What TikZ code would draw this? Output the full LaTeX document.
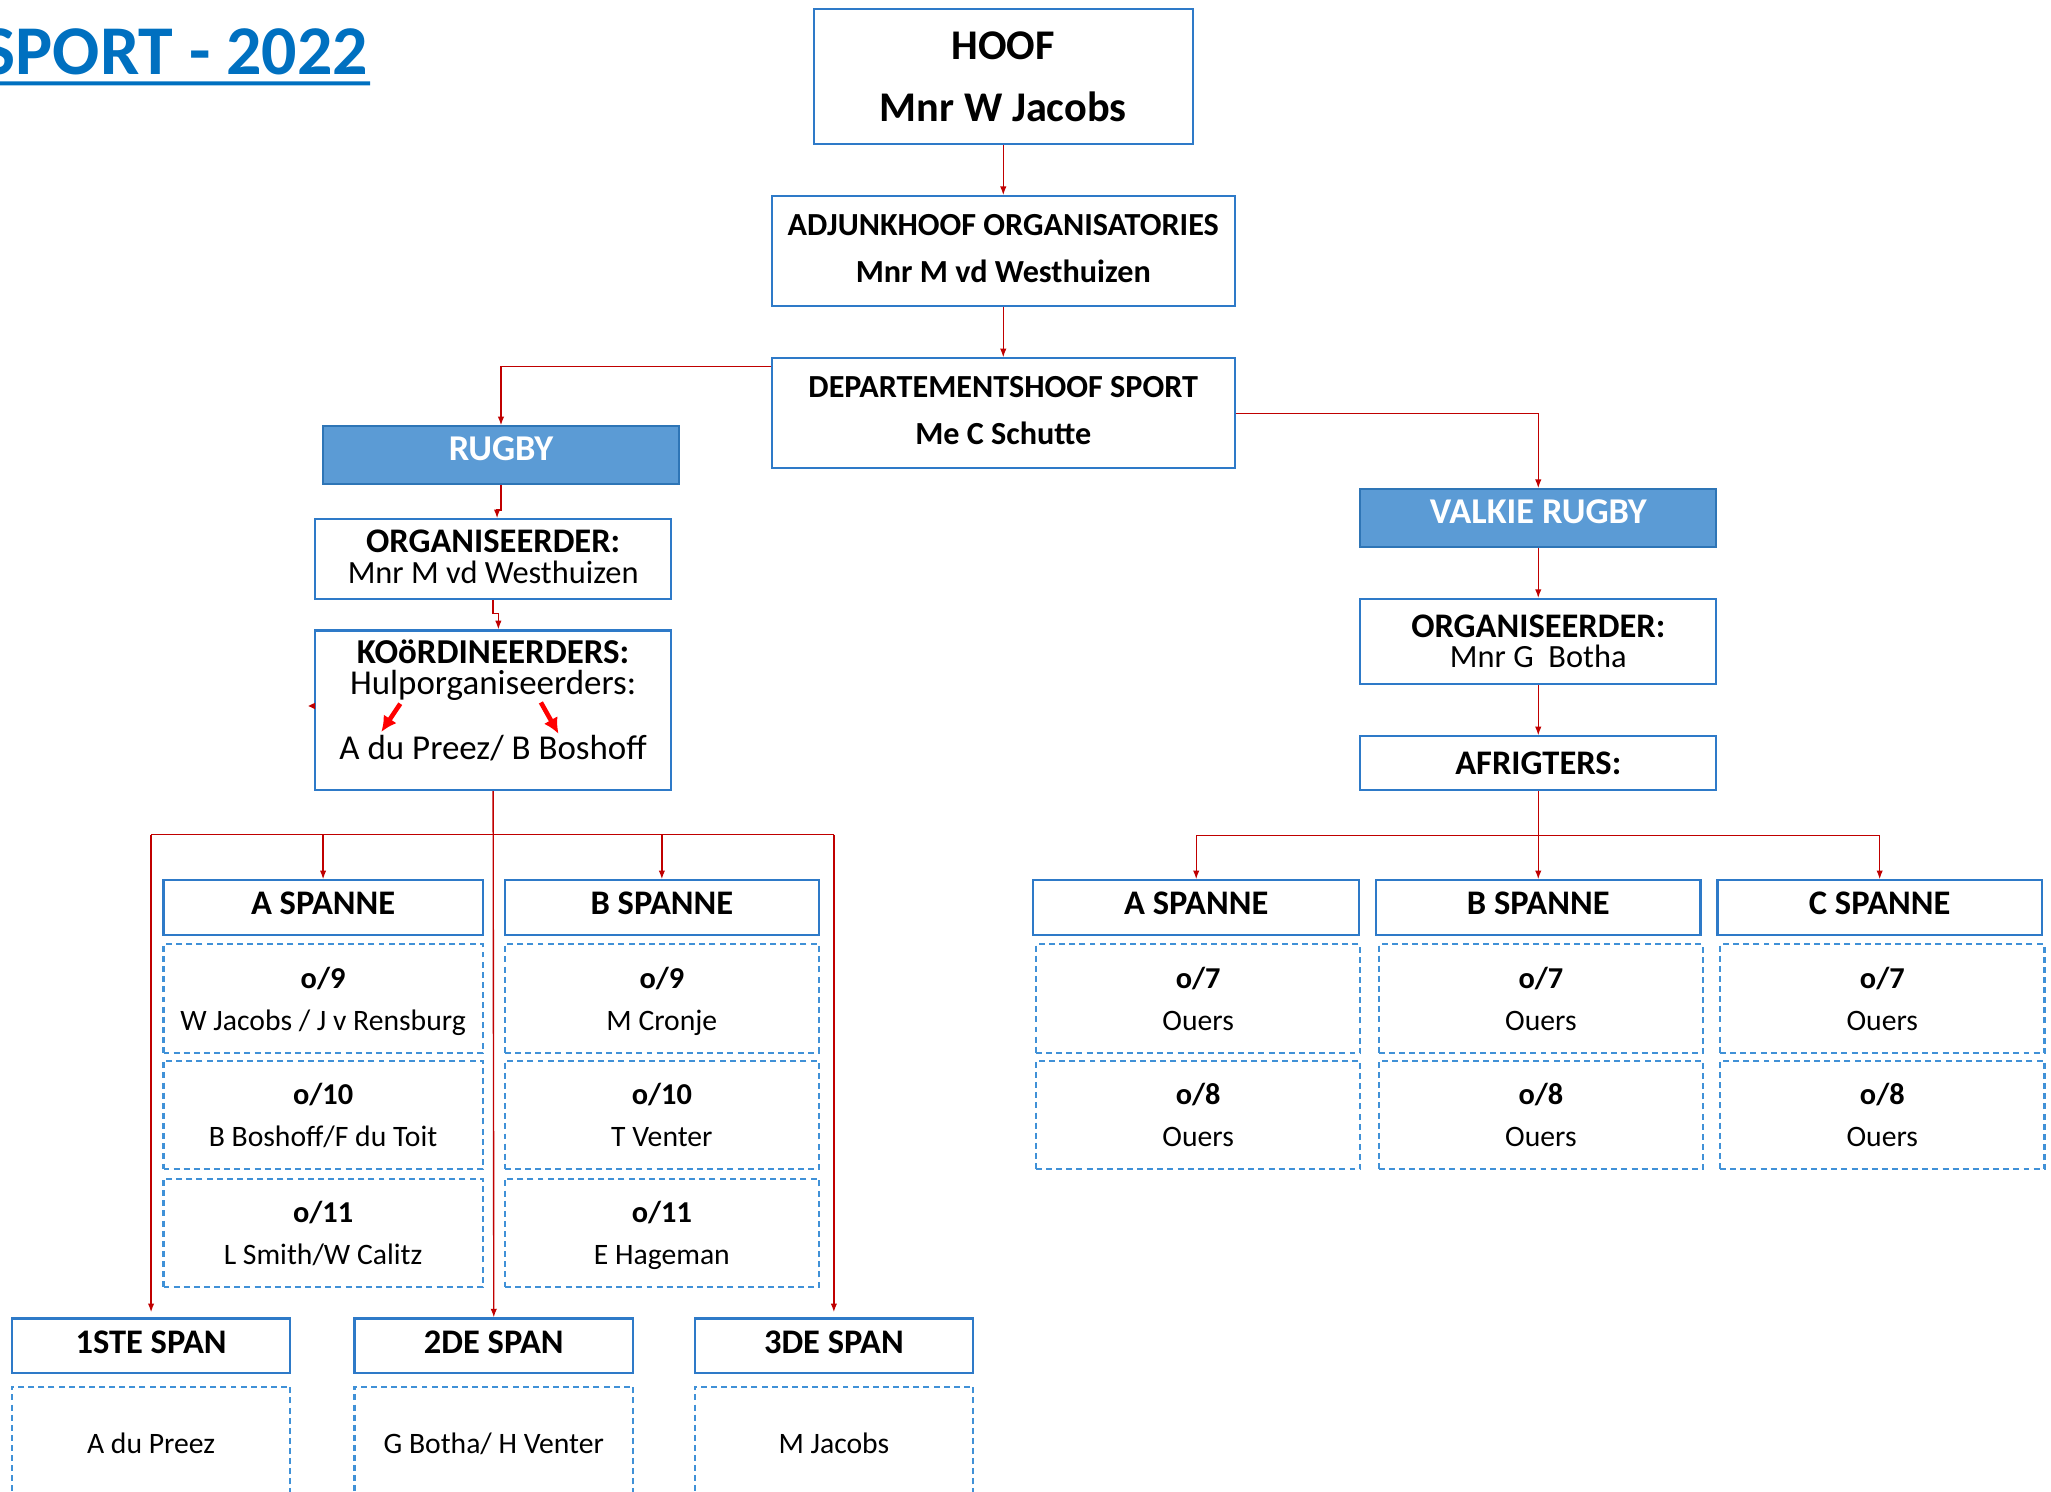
\documentclass[tikz,border=0pt]{standalone}
\usepackage{fontspec}
\setmainfont{Carlito}
\usetikzlibrary{arrows.meta, positioning, calc}

\definecolor{boxblue}{RGB}{46,122,200}
\definecolor{cellblue}{RGB}{64,145,215}
\definecolor{rugbyfill}{RGB}{91,155,213}
\definecolor{rugbyedge}{RGB}{46,117,182}
\definecolor{linkred}{RGB}{192,0,0}
\definecolor{hintred}{RGB}{255,0,0}
\definecolor{titleblue}{RGB}{0,112,192}

\newcommand{\namefont}{\fontsize{6.45}{9.1}\selectfont}

\tikzset{
  box/.style={draw=boxblue, line width=0.45pt, fill=white, inner sep=0pt, align=center},
  cell/.style={draw=cellblue, line width=0.45pt, dash pattern=on 1.3pt off 0.9pt, inner sep=0pt, align=center, text depth=0pt, font=\fontsize{6.6}{9.1}\selectfont},
  sportbox/.style={box, fill=rugbyfill, draw=rugbyedge, text=white, minimum width=2.72cm, minimum height=0.44cm, text depth=2.8pt, font=\fontsize{7.9}{9}\selectfont\bfseries},
  head/.style={box, minimum height=0.42cm, text depth=1.8pt, font=\fontsize{7.5}{9}\selectfont\bfseries},
  link/.style={draw=linkred, line width=0.3pt, -{Latex[length=1.9pt,width=1.4pt]}},
  wire/.style={draw=linkred, line width=0.3pt},
  hint/.style={draw=hintred, line width=1pt, -{Latex[length=3.4pt,width=3.4pt]}},
}

\begin{document}
\begin{tikzpicture}
  \useasboundingbox (0,0) rectangle (15.68,-11.406);

  % title
  \node[anchor=base east, inner sep=0pt, text=titleblue, font=\fontsize{15.2}{16}\selectfont\bfseries] (title) at (2.82,-0.566) {SPORT - 2022};
  \draw[titleblue, line width=0.85pt] (-0.1,-0.637) -- ($(title.base east)+(0.01,-0.071)$);

  % top of the chart
  \node[box, minimum width=2.90cm, minimum height=1.03cm, font=\fontsize{9.2}{13.4}\selectfont\bfseries] (hoof) at (7.67,-0.585) {HOOF\\Mnr W Jacobs};
  \node[box, minimum width=3.54cm, minimum height=0.84cm, text depth=1.1pt, font=\fontsize{7}{10.2}\selectfont\bfseries] (adjunk) at (7.67,-1.92) {ADJUNKHOOF ORGANISATORIES\\Mnr M vd Westhuizen};
  \node[box, minimum width=3.54cm, minimum height=0.84cm, text depth=1.1pt, font=\fontsize{7}{10.2}\selectfont\bfseries] (dept) at (7.67,-3.16) {DEPARTEMENTSHOOF SPORT\\Me C Schutte};

  % rugby
  \node[sportbox] (rugby) at (3.83,-3.48) {RUGBY};
  \node[box, minimum width=2.72cm, minimum height=0.61cm, text depth=1.2pt, font=\fontsize{7.5}{6.7}\selectfont] (orgrugby) at (3.77,-4.275) {\textbf{ORGANISEERDER:}\\{\fontsize{7.05}{6.7}\selectfont Mnr M vd Westhuizen}};
  \node[box, minimum width=2.72cm, minimum height=1.22cm, text depth=4.5pt, font=\fontsize{7.6}{6.8}\selectfont] (koord) at (3.77,-5.43) {\textbf{KOöRDINEERDERS:}\\Hulporganiseerders:\\[7.3pt]{\fontsize{7.6}{8}\selectfont A du Preez/ B Boshoff}};

  \node[head, minimum width=2.44cm] (aspan) at (2.47,-6.94) {A SPANNE};
  \node[head, minimum width=2.40cm] (bspan) at (5.06,-6.94) {B SPANNE};

  \node[cell, minimum width=2.44cm, minimum height=0.83cm] (a9) at (2.47,-7.635) {\textbf{o/9}\\\namefont W Jacobs / J v Rensburg};
  \node[cell, minimum width=2.44cm, minimum height=0.83cm] (a10) at (2.47,-8.525) {\textbf{o/10}\\\namefont B Boshoff/F du Toit};
  \node[cell, minimum width=2.44cm, minimum height=0.83cm] (a11) at (2.47,-9.425) {\textbf{o/11}\\\namefont L Smith/W Calitz};
  \node[cell, minimum width=2.40cm, minimum height=0.83cm] (b9) at (5.06,-7.635) {\textbf{o/9}\\\namefont M Cronje};
  \node[cell, minimum width=2.40cm, minimum height=0.83cm] (b10) at (5.06,-8.525) {\textbf{o/10}\\\namefont T Venter};
  \node[cell, minimum width=2.40cm, minimum height=0.83cm] (b11) at (5.06,-9.425) {\textbf{o/11}\\\namefont E Hageman};

  \node[head, minimum width=2.13cm] (span1) at (1.155,-10.29) {1STE SPAN};
  \node[head, minimum width=2.13cm] (span2) at (3.775,-10.29) {2DE SPAN};
  \node[head, minimum width=2.13cm] (span3) at (6.375,-10.29) {3DE SPAN};
  \node[cell, minimum width=2.13cm, minimum height=0.86cm] (span1c) at (1.155,-11.03) {\namefont A du Preez};
  \node[cell, minimum width=2.13cm, minimum height=0.86cm] (span2c) at (3.775,-11.03) {\namefont G Botha/ H Venter};
  \node[cell, minimum width=2.13cm, minimum height=0.86cm] (span3c) at (6.375,-11.03) {\namefont M Jacobs};

  % valkie rugby
  \node[sportbox] (valkie) at (11.76,-3.96) {VALKIE RUGBY};
  \node[box, minimum width=2.72cm, minimum height=0.65cm, font=\fontsize{7.5}{6.5}\selectfont] (orgvalkie) at (11.76,-4.905) {\textbf{ORGANISEERDER:}\\{\fontsize{7.05}{6.5}\selectfont Mnr G\ \ Botha}};
  \node[box, minimum width=2.72cm, minimum height=0.41cm, font=\fontsize{7.5}{9}\selectfont\bfseries] (afrigters) at (11.76,-5.835) {AFRIGTERS:};

  \node[head, minimum width=2.49cm] (vaspan) at (9.145,-6.94) {A SPANNE};
  \node[head, minimum width=2.48cm] (vbspan) at (11.76,-6.94) {B SPANNE};
  \node[head, minimum width=2.48cm] (vcspan) at (14.37,-6.94) {C SPANNE};

  \node[cell, minimum width=2.48cm, minimum height=0.83cm] (va7) at (9.16,-7.635) {\textbf{o/7}\\\namefont Ouers};
  \node[cell, minimum width=2.48cm, minimum height=0.83cm] (va8) at (9.16,-8.525) {\textbf{o/8}\\\namefont Ouers};
  \node[cell, minimum width=2.48cm, minimum height=0.83cm] (vb7) at (11.78,-7.635) {\textbf{o/7}\\\namefont Ouers};
  \node[cell, minimum width=2.48cm, minimum height=0.83cm] (vb8) at (11.78,-8.525) {\textbf{o/8}\\\namefont Ouers};
  \node[cell, minimum width=2.48cm, minimum height=0.83cm] (vc7) at (14.39,-7.635) {\textbf{o/7}\\\namefont Ouers};
  \node[cell, minimum width=2.48cm, minimum height=0.83cm] (vc8) at (14.39,-8.525) {\textbf{o/8}\\\namefont Ouers};

  % connectors
  \draw[link] (hoof.south) -- (adjunk.north);
  \draw[link] (adjunk.south) -- (dept.north);
  \draw[link] ($(dept.north west)+(0,-0.07)$) -| (rugby.north);
  \draw[link] (dept.east) -| (valkie.north);

  \draw[link] (rugby.south) -- ++(0,-0.19) -| ($(orgrugby.north)+(0.03,0)$);
  \draw[link] (orgrugby.south) -- ++(0,-0.1) -| ($(koord.north)+(0.04,0)$);
  \coordinate (kbar) at (3.77,-6.38);
  \draw[link] (koord.south) -- (span2.north);
  \draw[wire] (kbar -| span1.north) -- (kbar -| span3.north);
  \draw[link] (kbar -| span1.north) -- ($(span1.north)+(0,0.04)$);
  \draw[link] (kbar -| aspan.north) -- (aspan.north);
  \draw[link] (kbar -| bspan.north) -- (bspan.north);
  \draw[link] (kbar -| span3.north) -- ($(span3.north)+(0,0.04)$);

  \draw[link] (valkie.south) -- (orgvalkie.north);
  \draw[link] (orgvalkie.south) -- (afrigters.north);
  \coordinate (vbar) at (11.76,-6.385);
  \draw[link] (afrigters.south) -- (vbspan.north);
  \draw[wire] (vbar -| vaspan.north) -- (vbar -| vcspan.north);
  \draw[link] (vbar -| vaspan.north) -- (vaspan.north);
  \draw[link] (vbar -| vcspan.north) -- (vcspan.north);

  % red arrows in the coordinators box
  \draw[hint] (3.06,-5.38) -- (2.915,-5.596);
  \draw[hint] (4.135,-5.37) -- (4.27,-5.61);
  \fill[linkred] (2.357,-5.397) -- (2.41,-5.372) -- (2.41,-5.422) -- cycle;
\end{tikzpicture}
\end{document}
